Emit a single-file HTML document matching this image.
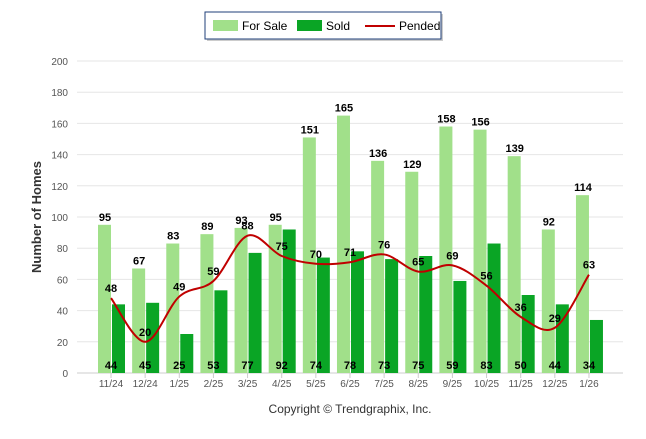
<!DOCTYPE html>
<html><head><meta charset="utf-8"><style>
body{margin:0;background:#fff;font-family:"Liberation Sans",sans-serif}
svg text{font-family:"Liberation Sans",sans-serif}
</style></head><body>
<svg id="c" width="646" height="434">
<g>
<rect x="207" y="14" width="236" height="27" fill="#999" opacity="0.5"/>
<rect x="205" y="12" width="236" height="27" fill="#fff" stroke="#1f3f7a" stroke-width="1"/>
<rect x="213" y="20" width="25" height="11" fill="#a1e08a"/>
<text x="242" y="30" font-size="12">For Sale</text>
<rect x="297" y="20" width="25" height="11" fill="#0aa525"/>
<text x="326" y="30" font-size="12">Sold</text>
<line x1="365" y1="26" x2="395" y2="26" stroke="#c00000" stroke-width="2"/>
<text x="399" y="30" font-size="12">Pended</text>
</g>
<text transform="translate(41,217) rotate(-90)" text-anchor="middle" font-size="13" font-weight="bold" fill="#333">Number of Homes</text>
<text x="350" y="413" text-anchor="middle" font-size="12" fill="#333">Copyright © Trendgraphix, Inc.</text>
<g id="plot"></g>
</svg>
<script>
const categories=["11/24","12/24","1/25","2/25","3/25","4/25","5/25","6/25","7/25","8/25","9/25","10/25","11/25","12/25","1/26"];
const forSale=[95,67,83,89,93,95,151,165,136,129,158,156,139,92,114];
const sold=[44,45,25,53,77,92,74,78,73,75,59,83,50,44,34];
const pended=[48,20,49,59,88,75,70,71,76,65,69,56,36,29,63];
const yTicks=[0,20,40,60,80,100,120,140,160,180,200];
const NS="http://www.w3.org/2000/svg";
const g=document.getElementById('plot');
const y0=373,y1=61,x0=77,x1=623;
const yS=v=>y0-(v/200)*(y0-y1);
const xS=i=>111+34.14*i;
function mk(t,a,p){const e=document.createElementNS(NS,t);for(const k in a)e.setAttribute(k,a[k]);(p||g).appendChild(e);return e;}
yTicks.forEach(v=>{
 const l=mk('line',{x1:x0,x2:x1,y1:yS(v),y2:yS(v),stroke:v===0?'#ccc':'#e6e6e6'});
 
 
 const t=mk('text',{x:68,y:yS(v)+4,'text-anchor':'end','font-size':10,fill:'#555'});t.textContent=v;
 
 
});
categories.forEach((c,i)=>{
 const cx=xS(i);
 const b1=mk('rect',{x:cx-13,y:yS(forSale[i]),width:13,height:y0-yS(forSale[i]),fill:'#a1e08a'});
 
 
 const b2=mk('rect',{x:cx+1,y:yS(sold[i]),width:13,height:y0-yS(sold[i]),fill:'#0aa525'});
 
 
 const tk=mk('line',{x1:cx,x2:cx,y1:y0,y2:y0+5,stroke:'#ccc'});
 
 
 const t=mk('text',{x:cx,y:y0+14,'text-anchor':'middle','font-size':10,fill:'#555'});t.textContent=c;
 
 
});
// smooth line (catmull-rom)
const pts=pended.map((v,i)=>[xS(i),yS(v)]);
let d='M'+pts[0][0]+','+pts[0][1];
for(let i=0;i<pts.length-1;i++){
 const p0=pts[Math.max(0,i-1)],p1=pts[i],p2=pts[i+1],p3=pts[Math.min(pts.length-1,i+2)];
 const k=1/6;
 d+=` C${p1[0]+(p2[0]-p0[0])*k},${p1[1]+(p2[1]-p0[1])*k} ${p2[0]-(p3[0]-p1[0])*k},${p2[1]-(p3[1]-p1[1])*k} ${p2[0]},${p2[1]}`;
}
const ln=mk('path',{d:d,fill:'none',stroke:'#c00000','stroke-width':2});


categories.forEach((c,i)=>{
 const cx=xS(i);
 const a=mk('text',{x:cx-6,y:yS(forSale[i])-4,'text-anchor':'middle','font-size':11,'font-weight':'bold'});a.textContent=forSale[i];
 
 
 const b=mk('text',{x:cx,y:369,'text-anchor':'middle','font-size':11,'font-weight':'bold'});b.textContent=sold[i];
 
 
 const p=mk('text',{x:cx,y:yS(pended[i])-6,'text-anchor':'middle','font-size':11,'font-weight':'bold'});p.textContent=pended[i];
 
 
});
</script>
</body></html>
